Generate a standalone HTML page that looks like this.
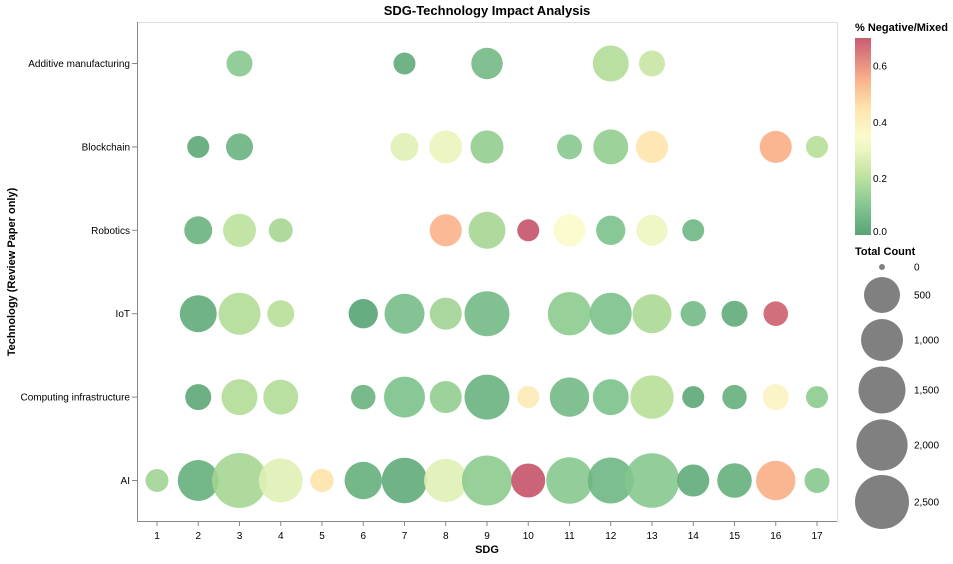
<!DOCTYPE html>
<html><head><meta charset="utf-8"><style>
body{margin:0;background:#fff;font-family:"Liberation Sans",sans-serif}
svg text{font-family:"Liberation Sans",sans-serif}
</style></head><body>
<svg id="c" width="953" height="559" xmlns="http://www.w3.org/2000/svg">
<defs><linearGradient id="g" x1="0" y1="1" x2="0" y2="0">
<stop offset="0" stop-color="#4a9a6a"/><stop offset="0.143" stop-color="#78c088"/><stop offset="0.286" stop-color="#b5de95"/><stop offset="0.43" stop-color="#eaf5bb"/><stop offset="0.5" stop-color="#fafac8"/><stop offset="0.643" stop-color="#fee2a8"/><stop offset="0.786" stop-color="#f9ac82"/><stop offset="1" stop-color="#c44e66"/></linearGradient></defs>
<text x="487" y="15" text-anchor="middle" font-size="13" font-weight="bold">SDG-Technology Impact Analysis</text>
<rect x="137.5" y="22.5" width="700" height="499" fill="none" stroke="#ddd"/>
<g id="marks"></g><g id="axes"></g>
<text x="487" y="553" text-anchor="middle" font-size="11" font-weight="bold">SDG</text>
<text transform="translate(15,272) rotate(-90)" text-anchor="middle" font-size="11" font-weight="bold">Technology (Review Paper only)</text>
<text x="855" y="31" font-size="11" font-weight="bold">% Negative/Mixed</text>
<rect x="855" y="38" width="16" height="197" fill="url(#g)" opacity="0.92"/>
<g id="leg"></g>
<text x="855" y="255" font-size="11" font-weight="bold">Total Count</text>
</svg>
<script>
const techs=["Additive manufacturing","Blockchain","Robotics","IoT","Computing infrastructure","AI"];
const sdgs=[1,2,3,4,5,6,7,8,9,10,11,12,13,14,15,16,17];
const ptTech=[0,0,0,0,0, 1,1,1,1,1,1,1,1,1,1, 2,2,2,2,2,2,2,2,2,2, 3,3,3,3,3,3,3,3,3,3,3,3,3, 4,4,4,4,4,4,4,4,4,4,4,4,4,4,4, 5,5,5,5,5,5,5,5,5,5,5,5,5,5,5,5,5];
const ptSdg=[3,7,9,12,13, 2,3,7,8,9,11,12,13,16,17, 2,3,4,8,9,10,11,12,13,14, 2,3,4,6,7,8,9,11,12,13,14,15,16, 2,3,4,6,7,8,9,10,11,12,13,14,15,16,17, 1,2,3,4,5,6,7,8,9,10,11,12,13,14,15,16,17];
const ptCount=[254,178,380,500,254, 178,275,297,419,419,233,471,394,394,178, 297,419,214,394,577,178,394,327,367,178, 577,1000,275,327,825,394,1293,1135,1000,739,241,254,225, 254,500,471,225,910,394,1293,178,774,500,1135,178,222,254,178, 195,910,2682,1194,203,611,1333,1135,1869,444,1459,1396,2608,394,460,774,233];
const ptNeg=[0.12,0.04,0.08,0.19,0.23, 0.03,0.06,0.28,0.30,0.14,0.12,0.14,0.44,0.55,0.20, 0.06,0.21,0.17,0.54,0.17,0.70,0.35,0.10,0.31,0.07, 0.04,0.19,0.20,0.02,0.09,0.16,0.08,0.13,0.10,0.18,0.08,0.04,0.68, 0.03,0.19,0.19,0.06,0.10,0.14,0.06,0.42,0.08,0.10,0.20,0.03,0.05,0.38,0.13, 0.16,0.05,0.17,0.28,0.45,0.05,0.04,0.28,0.13,0.70,0.12,0.07,0.12,0.04,0.05,0.55,0.12];
const colorTicks=[0,0.2,0.4,0.6];
const sizeTicks=[0,500,1000,1500,2000,2500];
const NS="http://www.w3.org/2000/svg";
function mk(t,a,p){const e=document.createElementNS(NS,t);for(const k in a)e.setAttribute(k,a[k]);p.appendChild(e);return e;}
const xS=s=>157+(s-1)*41.25;
const yS=i=>63.5+i*83.4;
const sA=[0,500,1000,1500,2000,2500],aA=[9,324,441,552,655,729];
function area(c){for(let i=1;i<sA.length;i++){if(c<=sA[i]||i==sA.length-1){return aA[i-1]+(c-sA[i-1])*(aA[i]-aA[i-1])/(sA[i]-sA[i-1]);}}}
const rS=c=>Math.sqrt(Math.max(area(c),4));
const stops=[[0,[74,154,106]],[0.1,[120,192,136]],[0.2,[181,222,149]],[0.3,[234,245,187]],[0.35,[250,250,200]],[0.45,[254,226,168]],[0.55,[249,172,130]],[0.7,[196,78,102]]];
function col(v){v=Math.max(0,Math.min(0.7,v));for(let i=1;i<stops.length;i++){if(v<=stops[i][0]){const a=stops[i-1],b=stops[i],t=(v-a[0])/(b[0]-a[0]);return "rgb("+a[1].map((x,j)=>Math.round(x+(b[1][j]-x)*t)).join(",")+")";}}}
const M=document.getElementById('marks'),A=document.getElementById('axes'),L=document.getElementById('leg');
for(let i=0;i<ptCount.length;i++){const r=rS(ptCount[i]);
const e=mk('circle',{cx:xS(ptSdg[i]),cy:yS(ptTech[i]),r:r,fill:col(ptNeg[i]),'fill-opacity':0.88},M);

}
mk('line',{x1:137.5,y1:22,x2:137.5,y2:521.5,stroke:'#888'},A);
mk('line',{x1:137,y1:521.5,x2:837,y2:521.5,stroke:'#888'},A);
sdgs.forEach(s=>{mk('line',{x1:xS(s),y1:521,x2:xS(s),y2:526,stroke:'#888'},A);
const t=mk('text',{x:xS(s),y:539,'text-anchor':'middle','font-size':10,fill:'#000'},A);t.textContent=s;

});
techs.forEach((n,i)=>{mk('line',{x1:132,y1:yS(i),x2:137,y2:yS(i),stroke:'#888'},A);
const t=mk('text',{x:130,y:yS(i)+3.5,'text-anchor':'end','font-size':10,fill:'#000'},A);t.textContent=n;

});
colorTicks.forEach(v=>{const y=235-v/0.7*197;
const t=mk('text',{x:873,y:Math.min(y+3.5,235),'font-size':10,fill:'#000'},L);t.textContent=v.toFixed(1);

});
const legY=[267,295,340,390,445,502];
sizeTicks.forEach((v,i)=>{const c=mk('circle',{cx:882,cy:legY[i],r:rS(v),fill:'#808080'},L);


const t=mk('text',{x:914,y:legY[i]+3.5,'font-size':10,fill:'#000'},L);t.textContent=v.toLocaleString('en-US');

});
</script>
</body></html>
